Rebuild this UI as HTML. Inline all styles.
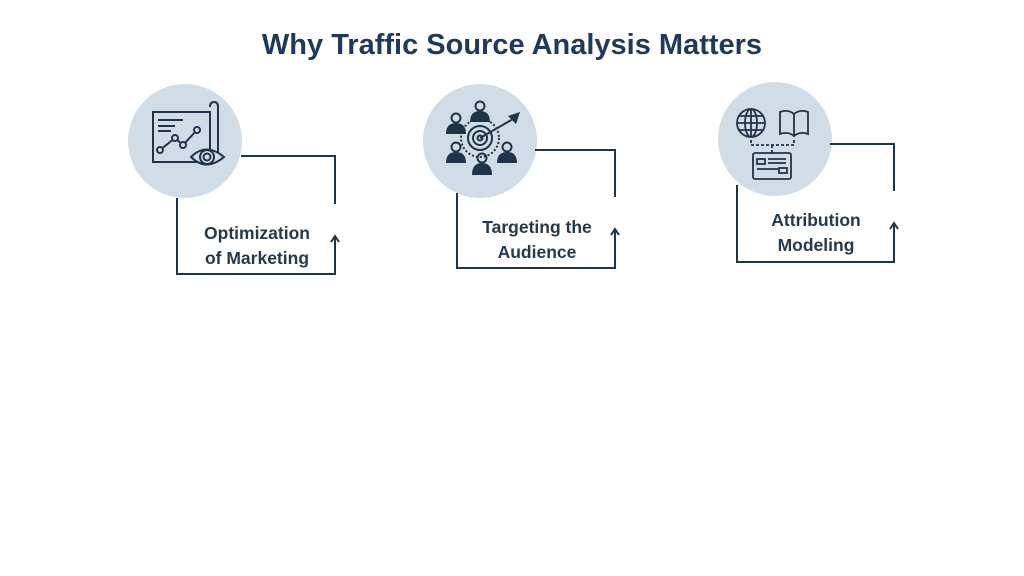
<!DOCTYPE html>
<html><head><meta charset="utf-8"><style>
html,body{margin:0;padding:0;background:#fff;}
body{width:1024px;height:576px;overflow:hidden;position:relative;font-family:"Liberation Sans",sans-serif;}
.t{position:absolute;left:0;width:1024px;top:29px;text-align:center;font-size:29px;font-weight:bold;color:#1d3a5c;letter-spacing:0px}
.l{position:absolute;text-align:center;font-size:17.5px;font-weight:bold;color:#25394a;line-height:25px;width:200px}
</style></head><body>
<div class="t">Why Traffic Source Analysis Matters</div>
<svg width="1024" height="576" style="position:absolute;left:0;top:0">
<g fill="#d0dce6"><circle cx="185" cy="141" r="57"/><circle cx="480" cy="141" r="57"/><circle cx="775" cy="139" r="57"/></g>
<g fill="none" stroke="#1f3449" stroke-width="2">
<path d="M241 156H335V204"/><path d="M177 198V274H335V238"/><path d="M331 242L335 236L339 242"/>
<path d="M535 150H615V197"/><path d="M457 193V268H615V231"/><path d="M611 235L615 229L619 235"/>
<path d="M830 144H894V191"/><path d="M737 185V262H894V225"/><path d="M890 229L894 223L898 229"/>
</g>
<g fill="none" stroke="#1f3449" stroke-width="2">
<path d="M153 112H210V162H153Z"/><path d="M210 107Q210 102 214 102Q218 102 218 107V154"/>
<path d="M158 120H183M158 126H175M158 131H171"/>
<path d="M160 150L175 138L183 145L197 130"/><circle cx="160" cy="150" r="3" fill="#d0dce6"/><circle cx="175" cy="138" r="3" fill="#d0dce6"/><circle cx="183" cy="145" r="3" fill="#d0dce6"/><circle cx="197" cy="130" r="3" fill="#d0dce6"/>
<path d="M191 157Q206 142 224 157Q206 172 191 157Z" fill="#d0dce6"/><circle cx="207" cy="157" r="7"/><circle cx="207" cy="157" r="3.5"/>
</g>
<g fill="#1f3449">
<circle cx="480" cy="106" r="4.5" fill="none" stroke="#1f3449" stroke-width="2"/><path d="M470 122Q470 111 480 111Q490 111 490 122Z"/>
<circle cx="456" cy="118" r="4.5" fill="none" stroke="#1f3449" stroke-width="2"/><path d="M446 134Q446 123 456 123Q466 123 466 134Z"/>
<circle cx="456" cy="147" r="4.5" fill="none" stroke="#1f3449" stroke-width="2"/><path d="M446 163Q446 152 456 152Q466 152 466 163Z"/>
<circle cx="507" cy="147" r="4.5" fill="none" stroke="#1f3449" stroke-width="2"/><path d="M497 163Q497 152 507 152Q517 152 517 163Z"/>
<circle cx="482" cy="158" r="4.5" fill="none" stroke="#1f3449" stroke-width="2"/><path d="M472 175Q472 163 482 163Q492 163 492 175Z"/>
</g>
<g fill="none" stroke="#1f3449" stroke-width="2"><circle cx="480" cy="138" r="12"/><circle cx="480" cy="138" r="7"/><circle cx="480" cy="138" r="2.5"/><circle cx="480" cy="138" r="19" stroke-dasharray="2 2"/><path d="M480 138L513 119"/></g>
<path d="M508 116L520 112L516 124Z" fill="#1f3449"/>
<g fill="none" stroke="#1f3449" stroke-width="1.8">
<circle cx="751" cy="123" r="14"/><ellipse cx="751" cy="123" rx="6" ry="14"/><path d="M737 123H765M739 116H763M739 130H763M751 109V137"/>
<path d="M780 112Q788 109 794 114Q800 109 808 112V134Q800 131 794 136Q788 131 780 134Z"/><path d="M794 114V136"/>
<path d="M751 140V145H794V138M772 145V153" stroke-dasharray="3 2"/>
<rect x="753" y="153" width="38" height="26" rx="2"/><rect x="757" y="159" width="8" height="5"/><path d="M768 159H786M768 163H786M757 169H778"/><rect x="779" y="168" width="8" height="5"/>
</g>
</svg>
<div class="l" style="left:157px;top:221px">Optimization<br>of Marketing</div>
<div class="l" style="left:437px;top:215px">Targeting the<br>Audience</div>
<div class="l" style="left:716px;top:208px">Attribution<br>Modeling</div>
</body></html>
